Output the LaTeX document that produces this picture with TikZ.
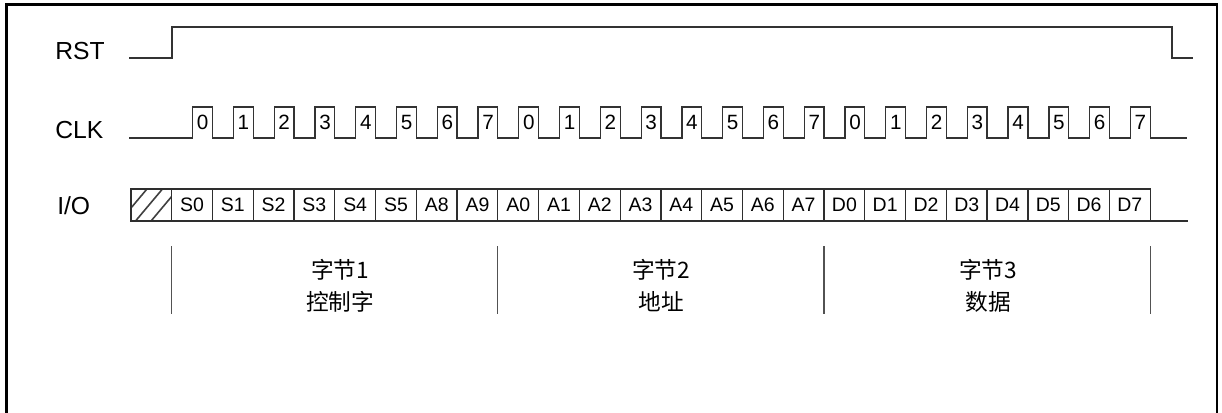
\documentclass[tikz,border=0pt]{standalone}
\usepackage{fontspec}
\setmainfont{Liberation Sans}
\newfontfamily\cjk{Noto Sans CJK SC}
\begin{document}
\begin{tikzpicture}[x=0.75pt,y=-0.75pt,
  wave/.style={draw=black!80,line width=0.95pt},
  cellline/.style={draw=black!82,line width=0.95pt},
  hatchline/.style={draw=black!75,line width=1.2pt},
  bracketline/.style={draw=black!68,line width=0.9pt},
  siglabel/.style={anchor=base west,inner sep=0pt,font=\fontsize{18.5pt}{21pt}\selectfont},
  digit/.style={inner sep=0pt,font=\fontsize{15.5pt}{18pt}\selectfont},
  celltext/.style={inner sep=0pt,font=\fontsize{14.6pt}{17pt}\selectfont},
  cjktext/.style={inner sep=0pt,font=\cjk\fontsize{17pt}{20pt}\selectfont}]
\useasboundingbox (0,0) rectangle (1222,412);
\def\xo{171.7}
\def\cw{40.77}
% frame (open at the bottom)
\draw[line width=2.2pt] (6.5,416) -- (6.5,4.8) -- (1217,4.8) -- (1217,416);
% signal labels
\node[siglabel] (rst) at (55,59.3) {RST};
\node[siglabel] (clk) at (55,138.3) {CLK};
\node[siglabel] (io) at (57,214) {I/O};
% RST waveform
\draw[wave] (129,58) -- (172,58) -- (172,27) -- (1172,27) -- (1172,58) -- (1193,58);
% CLK waveform
\draw[wave] (129,138)
  foreach \k in {0,...,23} {
    -- ({\xo+\k*\cw+21},138) -- ({\xo+\k*\cw+21},107)
    -- ({\xo+(\k+1)*\cw},107) -- ({\xo+(\k+1)*\cw},138)
  } -- (1187,138);
\foreach \k in {0,...,23} {
  \pgfmathtruncatemacro\dd{mod(\k,8)}
  \node[digit] (d\k) at ({\xo+\k*\cw+31},122.5) {\dd};
}
% I/O hatched box
\begin{scope}
  \clip (131,189) rectangle (\xo,221);
  \foreach \b in {120,135.5,151} {
    \draw[hatchline] (\b-5,227) -- (\b+32,183);
  }
\end{scope}
\draw[cellline] (131,189) rectangle (\xo,221);
% I/O cells
\draw[cellline] (\xo,189) rectangle ({\xo+24*\cw},221);
\draw[cellline] ({\xo+24*\cw},221) -- (1188,221);
\foreach \k in {1,...,23} {
  \draw[cellline] ({\xo+\k*\cw},189) -- ({\xo+\k*\cw},221);
}
\foreach \lab [count=\i from 0] in {S0,S1,S2,S3,S4,S5,A8,A9,A0,A1,A2,A3,A4,A5,A6,A7,D0,D1,D2,D3,D4,D5,D6,D7} {
  \node[celltext] (cell\i) at ({\xo+(\i+0.5)*\cw},205) {\lab};
}
% byte brackets
\foreach \k in {0,8,16,24} {
  \draw[bracketline] ({\xo+\k*\cw},246) -- ({\xo+\k*\cw},314);
}
\node[cjktext] (b1a) at (340,269.5) {字节1};
\node[cjktext] (b1b) at (340,302) {控制字};
\node[cjktext] (b2a) at (661,269.5) {字节2};
\node[cjktext] (b2b) at (661,302) {地址};
\node[cjktext] (b3a) at (988,269.5) {字节3};
\node[cjktext] (b3b) at (988,302) {数据};
\end{tikzpicture}
\end{document}
